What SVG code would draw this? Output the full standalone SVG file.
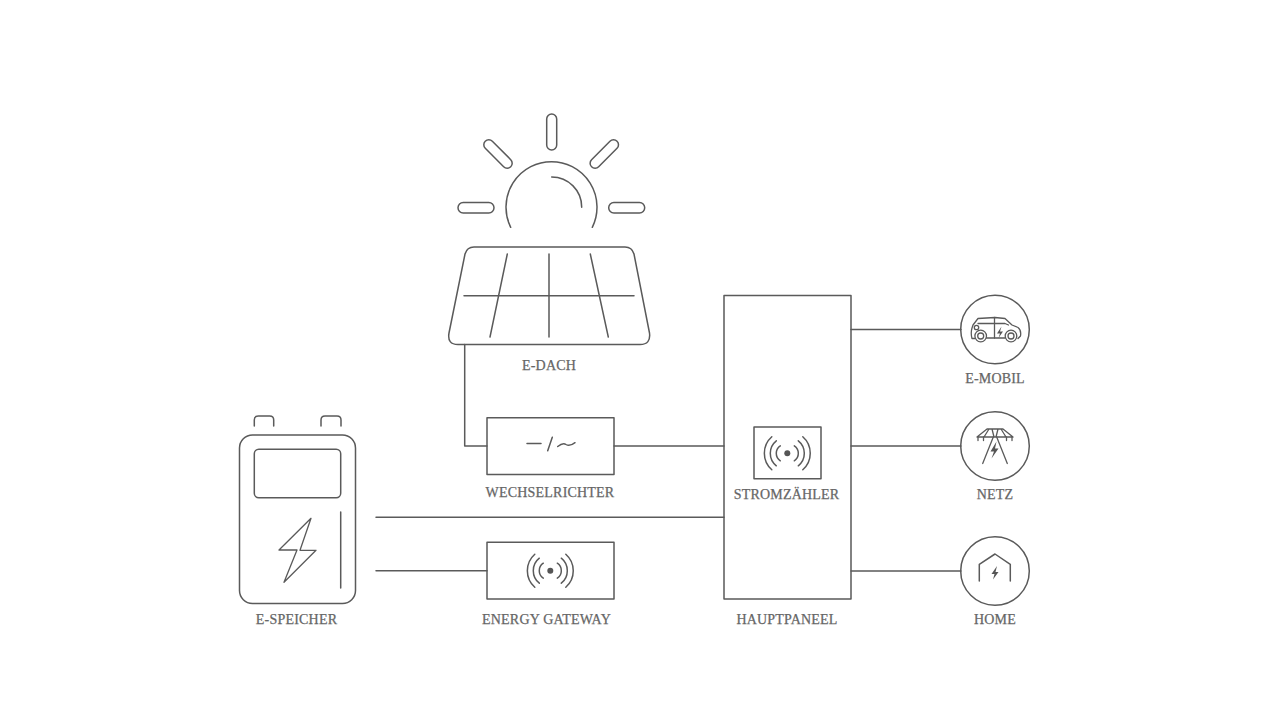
<svg xmlns="http://www.w3.org/2000/svg" width="1280" height="721" viewBox="0 0 1280 721">
<style>
.s{fill:none;stroke:#5a5a5a;stroke-width:1.5;stroke-linecap:round;stroke-linejoin:round}
.t{stroke-width:1.3}
.d{fill:#555;stroke:none}
text{font-family:"Liberation Serif","DejaVu Serif",serif;font-size:14px;letter-spacing:.2px;fill:#666;text-anchor:middle;stroke:#666;stroke-width:.25}
</style>
<defs>
<g id="waves" class="s">
<circle class="d" r="3"/>
<path d="M-7-7.500A9 9 0 0 0-7 7.500M-11-12.500A16 16 0 0 0-11 12.500M-15.500-16.500A22 22 0 0 0-15.500 16.500M7-7.500A9 9 0 0 1 7 7.500M11-12.500A16 16 0 0 1 11 12.500M15.500-16.500A22 22 0 0 1 15.500 16.500"/>
</g>
</defs>
<rect width="1280" height="721" fill="#fff"/>
<g id="connectors" class="s">
<path d="M464.700 344.500V446H487"/>
<path d="M614 446H724"/>
<path d="M376 517.300H724"/>
<path d="M376 570.700H487"/>
<path d="M851 329.500H961"/>
<path d="M851 446H961"/>
<path d="M851 571H961"/>
</g>
<g id="sun" class="s">
<path d="M510.700 227.300A45.500 45.500 0 1 1 592.300 227.300"/>
<path d="M551.700 177A30 30 0 0 1 581.700 207.300"/>
<rect x="546.700" y="114" width="10" height="36" rx="5"/>
<rect x="458" y="202.500" width="36" height="10.500" rx="5.200"/>
<rect x="608.700" y="202.500" width="36" height="10.500" rx="5.200"/>
<rect x="480" y="149" width="36" height="10" rx="5" transform="rotate(45 498 154)"/>
<rect x="586.300" y="149" width="36" height="10" rx="5" transform="rotate(-45 604.300 154)"/>
</g>
<g id="e-dach">
<g class="s">
<path d="M474 247H625Q632 247 634 254L649.500 333Q651 344.500 640 344.500H458Q447 344.500 449 333L465 254Q467 247 474 247Z"/>
<path d="M464 295.700H634M549 254V337M507.300 254L490 337M590.300 254L608.300 337"/>
</g>
<text x="549" y="370">E-DACH</text>
</g>
<g id="wechselrichter">
<rect class="s" x="487" y="417.700" width="127" height="56.700"/>
<path class="s" d="M527 443.500H541M552.300 437.300L547.700 450.700M557.700 446.500C562 443 564 443 566 444.500C569 446.500 572 445 575 442.700"/>
<text x="550" y="497">WECHSELRICHTER</text>
</g>
<g id="energy-gateway">
<rect class="s" x="487" y="542.300" width="127" height="56.700"/>
<use href="#waves" x="550.300" y="570.700"/>
<text x="546.500" y="624">ENERGY GATEWAY</text>
</g>
<g id="hauptpaneel">
<rect class="s" x="724" y="295.500" width="127" height="303.500"/>
<text x="787" y="624">HAUPTPANEEL</text>
</g>
<g id="stromzaehler">
<rect class="s" x="754" y="427" width="67" height="51.700"/>
<use href="#waves" x="787.300" y="453.300"/>
<text x="786.500" y="498.500">STROMZÄHLER</text>
</g>
<g id="e-speicher">
<g class="s">
<rect x="239.500" y="435" width="116" height="168.500" rx="13"/>
<rect x="254.300" y="449.300" width="86.400" height="48.400" rx="4.500"/>
<path d="M340.700 512V588"/>
<path d="M254.300 426V420Q254.300 416 258.300 416H269.700Q273.700 416 273.700 420V426M321 426V420Q321 416 325 416H337Q341 416 341 420V426"/>
<path class="t" d="M311 518.300L279 550H297L284 582.300L316 550.300H300Z"/>
</g>
<text x="296.500" y="624">E-SPEICHER</text>
</g>
<g id="e-mobil">
<circle class="s" cx="995" cy="329.500" r="34.300"/>
<g class="s t">
<path d="M975 338.500H972Q970.500 333 972 328L973 325L978 318.500L995 317.500L1005 318.500L1012 325L1018 327.500Q1021.500 330 1020.500 336L1018 338.500M986.500 338H1005"/>
<path d="M978 323.500H1005L1008.500 325M994.500 317.500V338"/>
<circle cx="980.700" cy="336" r="5.800"/>
<circle cx="980.700" cy="336" r="3"/>
<circle cx="1011" cy="336" r="5.800"/>
<circle cx="1011" cy="336" r="3"/>
<circle cx="976.500" cy="327.500" r="2.200"/>
</g>
<path class="d" d="M1001.500 326.500L997 333.500H1000L998.500 338L1003 331.500H1000Z"/>
<text x="995" y="382.500">E-MOBIL</text>
</g>
<g id="netz">
<circle class="s" cx="995" cy="446" r="34.300"/>
<g class="s t">
<path d="M977 437L987 429H1003L1013 437ZM989 429L984 437M1001 429L1006 437M992 429L994 437M998 429L996 437"/>
<path d="M978 437V440.500M983.500 437V440.500M1006.500 437V440.500M1012 437V440.500"/>
<path d="M993.300 437L982.700 463.500M996.700 437L1007.300 463.500"/>
</g>
<path class="d" d="M996.500 441.500L990.500 451.500H994L991.500 458.500L998.500 448.500H995Z"/>
<text x="995" y="499">NETZ</text>
</g>
<g id="home">
<circle class="s" cx="995" cy="571" r="34.300"/>
<path class="s" d="M979.300 581V564.300L995 554L1010.300 564.300V581"/>
<path class="d" d="M997 566L991.500 574H994.500L993 579.500L998.500 572H995.500Z"/>
<text x="995" y="624">HOME</text>
</g>
</svg>
